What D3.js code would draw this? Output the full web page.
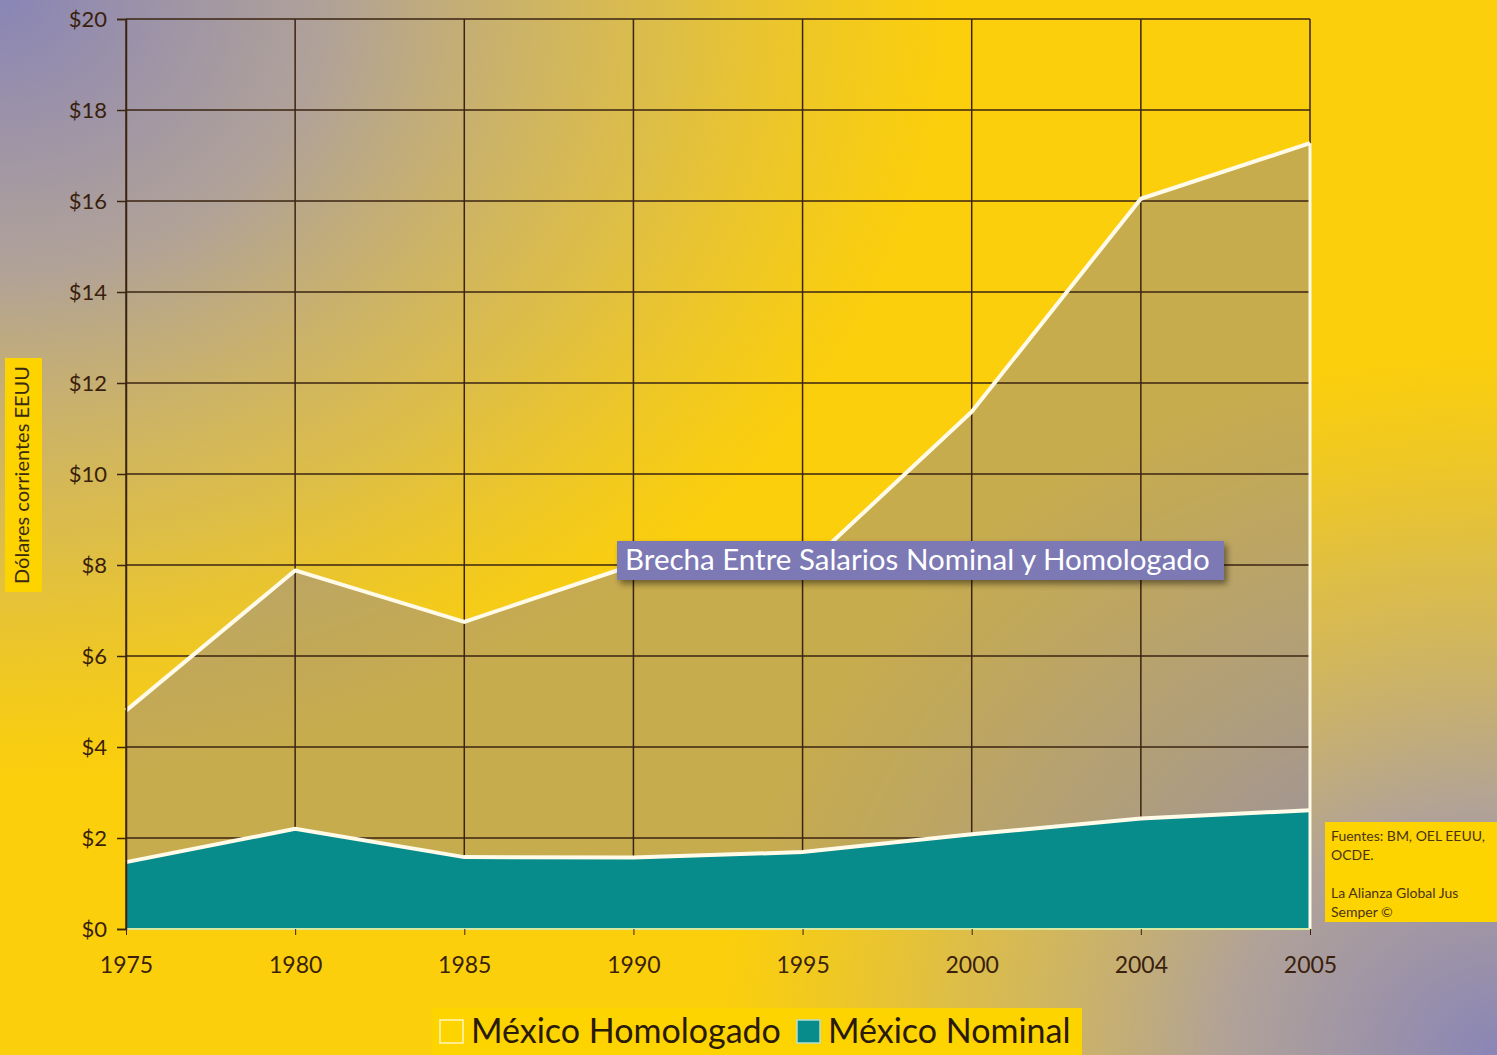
<!DOCTYPE html>
<html>
<head>
<meta charset="utf-8">
<script src="https://cdn.jsdelivr.net/npm/d3@7"></script>
<style>
  html, body { margin: 0; padding: 0; overflow: hidden; }
  svg { display: block; font-family: Lato, "Open Sans", sans-serif; }
</style>
</head>
<body>
<div id="chart"></div>
<script>
// data
var years = ["1975", "1980", "1985", "1990", "1995", "2000", "2004", "2005"];
var homologado = [4.8, 7.88, 6.75, 8.0, 7.9, 11.37, 16.05, 17.27];
var nominal = [1.47, 2.2, 1.58, 1.57, 1.69, 2.08, 2.43, 2.61];
var yTicks = [0, 2, 4, 6, 8, 10, 12, 14, 16, 18, 20];

var W = 1497, H = 1055;
var margin = { top: 19, right: 187, bottom: 126, left: 126 },
    width = W - margin.left - margin.right,
    height = H - margin.top - margin.bottom;

var root = d3.select("#chart").append("svg")
    .attr("width", W)
    .attr("height", H);

var defs = root.append("defs");

// purple glow in the top-left and bottom-right corners, over yellow
function corner(id, cx, cy, r, sy) {
    var g = defs.append("radialGradient")
        .attr("id", id)
        .attr("gradientUnits", "userSpaceOnUse")
        .attr("cx", cx).attr("cy", cy).attr("r", r)
        .attr("gradientTransform", "translate(" + cx + "," + cy + ") scale(1," + sy + ") translate(" + (-cx) + "," + (-cy) + ")");
    g.append("stop").attr("offset", 0).attr("stop-color", "#8985b6").attr("stop-opacity", 1);
    g.append("stop").attr("offset", 0.35).attr("stop-color", "#a49ab0").attr("stop-opacity", 0.85);
    g.append("stop").attr("offset", 0.7).attr("stop-color", "#b8a890").attr("stop-opacity", 0.45);
    g.append("stop").attr("offset", 1).attr("stop-color", "#c8b070").attr("stop-opacity", 0);
}
corner("tl", 0, 0, 950, 0.82);
corner("br", W, H, 780, 0.9);

var shadow = defs.append("filter").attr("id", "shadow")
    .attr("x", "-5%").attr("y", "-30%").attr("width", "110%").attr("height", "170%");
shadow.append("feDropShadow")
    .attr("dx", 3).attr("dy", 4).attr("stdDeviation", 3)
    .attr("flood-color", "#000").attr("flood-opacity", 0.45);

root.append("rect").attr("width", W).attr("height", H).attr("fill", "#fbcf0c");
root.append("rect").attr("width", W).attr("height", H).attr("fill", "url(#tl)");
root.append("rect").attr("width", W).attr("height", H).attr("fill", "url(#br)");

var svg = root.append("g")
    .attr("transform", "translate(" + margin.left + "," + margin.top + ")");

var x = d3.scalePoint().domain(years).range([0, width]);
var y = d3.scaleLinear().domain([0, 20]).range([height, 0]);

var homoData = years.map(function (d, i) { return { year: d, v: homologado[i] }; });
var nomData = years.map(function (d, i) { return { year: d, v: nominal[i] }; });

// gap area (homologado)
var area = d3.area()
    .x(function (d) { return x(d.year); })
    .y0(y(0))
    .y1(function (d) { return y(d.v); });

svg.append("path")
    .datum(homoData)
    .attr("d", area)
    .attr("fill", "rgb(135,128,160)")
    .attr("fill-opacity", 0.45);

// grid
svg.append("g").selectAll("line.h")
    .data(yTicks)
    .enter()
    .append("line")
    .attr("x1", 0).attr("x2", width)
    .attr("y1", function (d) { return y(d); })
    .attr("y2", function (d) { return y(d); })
    .attr("stroke", "#3b2412")
    .attr("stroke-width", 1.5);

svg.append("g").selectAll("line.v")
    .data(years)
    .enter()
    .append("line")
    .attr("x1", function (d) { return x(d); })
    .attr("x2", function (d) { return x(d); })
    .attr("y1", 0).attr("y2", height)
    .attr("stroke", "#3b2412")
    .attr("stroke-width", 1.5);

// nominal area
svg.append("path")
    .datum(nomData)
    .attr("d", area)
    .attr("fill", "#078b8b");

// white outlines
var line = d3.line()
    .x(function (d) { return x(d.year); })
    .y(function (d) { return y(d.v); });

svg.append("path")
    .datum(nomData)
    .attr("d", line)
    .attr("fill", "none")
    .attr("stroke", "#fffbe8")
    .attr("stroke-width", 4);

svg.append("path")
    .datum(homoData)
    .attr("d", line)
    .attr("fill", "none")
    .attr("stroke", "#fffbe8")
    .attr("stroke-width", 4)
    .attr("stroke-linejoin", "round");

svg.append("line")
    .attr("x1", x("2005")).attr("x2", x("2005"))
    .attr("y1", y(homologado[homologado.length - 1])).attr("y2", y(0))
    .attr("stroke", "#fffbe8")
    .attr("stroke-width", 3);

svg.append("line")
    .attr("x1", 0).attr("x2", width)
    .attr("y1", y(0)).attr("y2", y(0))
    .attr("stroke", "#d8e8a0")
    .attr("stroke-width", 2);

// axes
var yAxis = svg.append("g")
    .call(d3.axisLeft(y).tickValues(yTicks).tickSize(9).tickPadding(10)
        .tickFormat(function (d) { return "$" + d; }));
yAxis.select(".domain").attr("stroke", "#3b2412").attr("stroke-width", 1.5);
yAxis.selectAll(".tick line").attr("stroke", "#3b2412").attr("stroke-width", 1.5);
yAxis.selectAll("text")
    .attr("fill", "#3a1f0c")
    .style("font-size", "22px")
    .style("font-family", "Lato, sans-serif");

var xAxis = svg.append("g")
    .attr("transform", "translate(0," + height + ")")
    .call(d3.axisBottom(x).tickSize(6).tickPadding(22));
xAxis.select(".domain").remove();
xAxis.selectAll(".tick line").attr("stroke", "#3b2412").attr("stroke-width", 1);
xAxis.selectAll("text")
    .attr("fill", "#3a1f0c")
    .style("font-size", "23px")
    .style("font-family", "Lato, sans-serif");

// y label box
root.append("rect")
    .attr("x", 5).attr("y", 358).attr("width", 37).attr("height", 234)
    .attr("fill", "#fdd300");
root.append("text")
    .attr("transform", "translate(29,475) rotate(-90)")
    .attr("text-anchor", "middle")
    .attr("fill", "#3a2a10")
    .style("font-size", "20px")
    .text("Dólares corrientes EEUU");

// annotation
root.append("rect")
    .attr("x", 617).attr("y", 541).attr("width", 607).attr("height", 39)
    .attr("fill", "#7b79b4")
    .attr("filter", "url(#shadow)");
root.append("text")
    .attr("x", 625).attr("y", 570)
    .attr("fill", "#ffffff")
    .style("font-size", "29.5px")
    .text("Brecha Entre Salarios Nominal y Homologado");

// sources
root.append("rect")
    .attr("x", 1325).attr("y", 822).attr("width", 172).attr("height", 100)
    .attr("fill", "#fdd300");
var src = ["Fuentes: BM, OEL EEUU,", "OCDE.", "", "La Alianza Global Jus", "Semper ©"];
root.append("g").selectAll("text")
    .data(src)
    .enter()
    .append("text")
    .attr("x", 1331)
    .attr("y", function (d, i) { return 841 + i * 19; })
    .attr("fill", "#4a3414")
    .style("font-size", "14px")
    .text(function (d) { return d; });

// legend
root.append("rect")
    .attr("x", 432).attr("y", 1008).attr("width", 650).attr("height", 47)
    .attr("fill", "#fdd300");
var legendItems = [
    { name: "México Homologado", color: "#fdd300", stroke: "#fff6c0", x: 440 },
    { name: "México Nominal", color: "#078b8b", stroke: "#b8e0d0", x: 797 }
];
var lg = root.append("g").selectAll("g")
    .data(legendItems)
    .enter()
    .append("g");
lg.append("rect")
    .attr("x", function (d) { return d.x; })
    .attr("y", 1020).attr("width", 23).attr("height", 23)
    .attr("fill", function (d) { return d.color; })
    .attr("stroke", function (d) { return d.stroke; })
    .attr("stroke-width", 1.5);
lg.append("text")
    .attr("x", function (d) { return d.x + 31; })
    .attr("y", 1043)
    .attr("fill", "#2a1a08")
    .style("font-size", "34px")
    .text(function (d) { return d.name; });
</script>
</body>
</html>
